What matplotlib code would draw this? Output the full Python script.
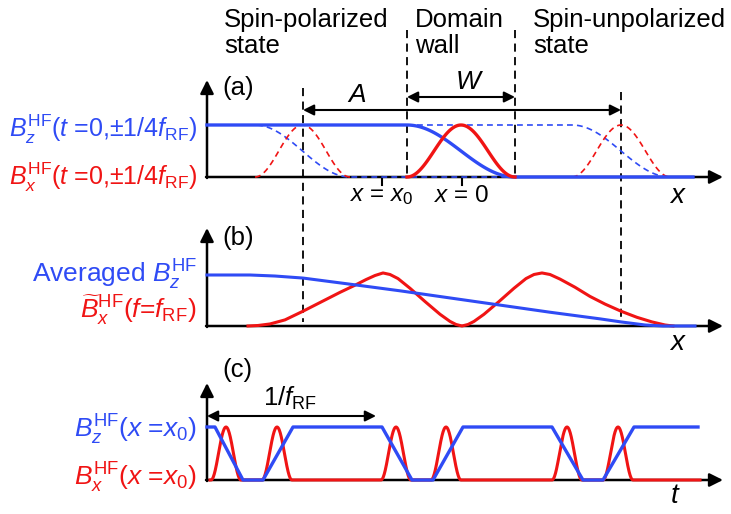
import matplotlib.pyplot as plt
import numpy as np

plt.rcParams['font.family'] = ['Liberation Sans', 'DejaVu Sans']
plt.rcParams['mathtext.fontset'] = 'custom'
plt.rcParams['mathtext.rm'] = 'Liberation Sans'
plt.rcParams['mathtext.it'] = 'Liberation Sans:italic'
plt.rcParams['mathtext.bf'] = 'Liberation Sans:bold'

BLUE = '#2f4bf5'
RED = '#f01414'

# 区域标题
region_x = [224, 415, 533]
region_lines = [['Spin-polarized', 'state'], ['Domain', 'wall'], ['Spin-unpolarized', 'state']]

# (a) 畴壁位置 (t=0 与 t=±1/4f_RF)
wall_t0 = [407, 515]
wall_minus = [255, 350]
wall_plus = [572, 670]
a_end = 693
tick_pos = [382, 462]
tick_text = [r'$x$ = $x_0$', r'$x$ = 0']

# (b) 平均 Bz 与 f_RF 分量 Bx
avg_bz_x = [207, 250, 275, 303, 350, 400, 450, 500, 550, 600, 621, 645, 663, 695]
avg_bz_v = [1.0, 1.0, 0.98, 0.94, 0.82, 0.69, 0.55, 0.41, 0.27, 0.14, 0.08, 0.02, 0.0, 0.0]
bx_rf_x = [248, 258, 270, 285, 303, 320, 340, 355, 366, 375, 383, 390, 398, 410, 425, 440,
           450, 456, 462, 468, 474, 484, 499, 514, 526, 534, 542, 550, 560, 575, 590, 605,
           621, 637, 652, 665, 673]
bx_rf_v = [0.0, 0.01, 0.04, 0.12, 0.29, 0.46, 0.66, 0.80, 0.91, 0.99, 1.04, 1.01, 0.93, 0.74,
           0.48, 0.23, 0.09, 0.03, 0.0, 0.03, 0.09, 0.23, 0.48, 0.74, 0.93, 1.01, 1.04, 1.01,
           0.92, 0.76, 0.58, 0.43, 0.29, 0.17, 0.08, 0.02, 0.0]

# (c) x=x0 处的时间波形
bz_t = [207, 215, 243, 263, 293, 382, 412, 433, 463, 552, 583, 603, 634, 698]
bz_v = [1, 1, 0, 0, 1, 1, 0, 0, 1, 1, 0, 0, 1, 1]
pulse_t = [226, 277, 396, 446, 567, 618]
pulse_w = 30
period = [207, 376]

# 各面板: 基线 与 高度 (像素)
base = {'a': 177, 'b': 326, 'c': 480}
height = {'a': 52, 'b': 51, 'c': 53}


def py(panel, v):
    return base[panel] - np.asarray(v, dtype=float) * height[panel]


def wall(x0, x1, xe):
    # 畴壁: Bz 余弦下降, Bx 为 sin^2 峰
    u = np.linspace(0, 1, 60)
    xs = x0 + u * (x1 - x0)
    bz = (1 + np.cos(np.pi * u)) / 2
    bx = np.sin(np.pi * u) ** 2
    xz = np.concatenate([[207], xs, [xe]])
    vz = np.concatenate([[1], bz, [0]])
    return xz, vz, xs, bx


fig = plt.figure(figsize=(7.31, 5.14), dpi=100)
ax = fig.add_axes([0, 0, 1, 1])
ax.set_xlim(0, 731)
ax.set_ylim(514, 0)
ax.axis('off')

arrow_kw = dict(arrowstyle='-|>', color='k', lw=1.8, mutation_scale=20, shrinkA=0, shrinkB=0)
tops = {'a': 80, 'b': 228, 'c': 383}
for p in ['a', 'b', 'c']:
    ax.annotate('', xy=(207, tops[p]), xytext=(207, base[p] + 1), arrowprops=arrow_kw, zorder=2)
    ax.annotate('', xy=(723, base[p]), xytext=(206, base[p]), arrowprops=arrow_kw, zorder=2)

# 虚线分界
vlines = [(303, 88, 322), (407, 30, 178), (515, 30, 178), (621, 92, 323)]
for xv, y0, y1 in vlines:
    ax.plot([xv, xv], [y0, y1], color='k', lw=1.3, ls=(0, (4.5, 3)), zorder=1)

# (a)
for w in [wall_minus, wall_plus]:
    xz, vz, xs, bx = wall(w[0], w[1], a_end)
    ax.plot(xz, py('a', vz), color=BLUE, lw=1.2, ls=(0, (3.5, 2.5)), zorder=3)
    ax.plot(xs, py('a', bx), color=RED, lw=1.2, ls=(0, (3.5, 2.5)), zorder=3)
xz, vz, xs, bx = wall(wall_t0[0], wall_t0[1], a_end)
ax.plot(xz, py('a', vz), color=BLUE, lw=2.4, zorder=4)
ax.plot(xs, py('a', bx), color=RED, lw=2.4, zorder=5)

for xt, lab in zip(tick_pos, tick_text):
    ax.plot([xt, xt], [base['a'], base['a'] + 8], color='k', lw=1.5)
    ax.text(xt, 196, lab, fontsize=17.5, ha='center', va='center')

dbl = dict(arrowstyle='<|-|>', color='k', lw=1.5, mutation_scale=16, shrinkA=0, shrinkB=0)
ax.annotate('', xy=(621, 110), xytext=(303, 110), arrowprops=dbl)
ax.annotate('', xy=(515, 97), xytext=(407, 97), arrowprops=dbl)
ax.text(357, 95, 'A', fontsize=19, style='italic', ha='center', va='center')
ax.text(468, 82, 'W', fontsize=19, style='italic', ha='center', va='center')

# (b)
ax.plot(bx_rf_x, py('b', bx_rf_v), color=RED, lw=2.2, zorder=4, solid_joinstyle='round')
ax.plot(avg_bz_x, py('b', avg_bz_v), color=BLUE, lw=2.2, zorder=5)

# (c)
tt = np.linspace(period[0] + 3, 700, 1500)
bx_c = np.zeros_like(tt)
for tc in pulse_t:
    m = np.abs(tt - tc) < pulse_w / 2
    bx_c[m] = np.cos(np.pi * (tt[m] - tc) / pulse_w) ** 2
ax.plot(tt, py('c', bx_c), color=RED, lw=2.2, zorder=4)
ax.plot(bz_t, py('c', bz_v), color=BLUE, lw=2.4, zorder=5)
ax.annotate('', xy=(period[1], 416), xytext=(period[0], 416), arrowprops=dbl)
ax.text(290, 398, r'1/$f_{\mathrm{RF}}$', fontsize=18.5, ha='center', va='center')

# 坐标轴名
ax.text(678, 196, r'$x$', fontsize=20, ha='center', va='center')
ax.text(678, 343, r'$x$', fontsize=20, ha='center', va='center')
ax.text(675, 496, r'$t$', fontsize=20, ha='center', va='center')

# 面板编号
for lab, yc in [('(a)', 88), ('(b)', 238), ('(c)', 370)]:
    ax.text(222, yc, lab, fontsize=18.5, ha='left', va='center')

# 区域标题
for xl, lines in zip(region_x, region_lines):
    ax.text(xl, 27, lines[0], fontsize=18.5, ha='left', va='baseline')
    ax.text(xl, 53, lines[1], fontsize=18.5, ha='left', va='baseline')

# 左侧标签
labels = [
    (137, r'$B_z^{\mathrm{HF}}$($t$ =0,±1/4$f_{\mathrm{RF}}$)', BLUE, 18),
    (185, r'$B_x^{\mathrm{HF}}$($t$ =0,±1/4$f_{\mathrm{RF}}$)', RED, 18),
    (283, r'Averaged $B_z^{\mathrm{HF}}$', BLUE, 19),
    (318, r'$\widetilde{B}_x^{\mathrm{HF}}$($f$=$f_{\mathrm{RF}}$)', RED, 19),
    (438, r'$B_z^{\mathrm{HF}}$($x$ =$x_0$)', BLUE, 19),
    (486, r'$B_x^{\mathrm{HF}}$($x$ =$x_0$)', RED, 19),
]
for yb, s, c, fs in labels:
    ax.text(197, yb, s, fontsize=fs, color=c, ha='right', va='baseline')

fig.savefig('out.png', dpi=100)
